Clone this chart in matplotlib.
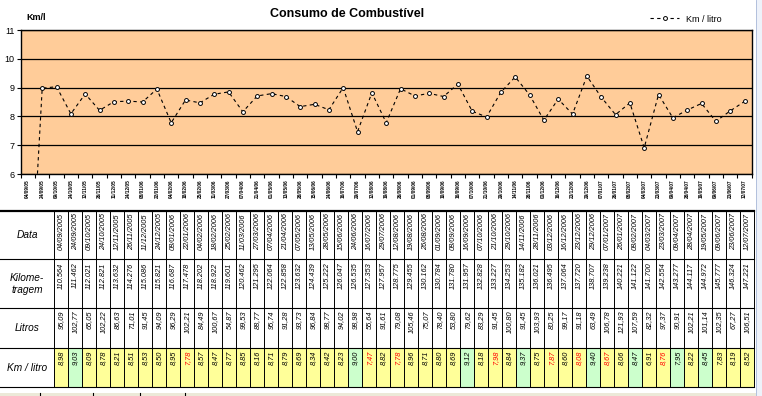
import matplotlib
matplotlib.use('Agg')
import matplotlib.pyplot as plt
import numpy as np
from matplotlib.patches import Rectangle

plt.rcParams['font.family'] = ['Liberation Sans', 'DejaVu Sans']

# ---------------- data ----------------
chart_dates = ["04/09/05", "24/09/05", "09/10/05", "24/10/05", "12/11/05", "26/11/05", "11/12/05",
               "24/12/05", "08/01/06", "22/01/06", "04/02/06", "18/02/06", "25/02/06", "11/03/06",
               "27/03/06", "07/04/06", "21/04/06", "01/05/06", "13/05/06", "28/05/06", "15/06/06",
               "24/06/06", "16/07/06", "29/07/06", "12/08/06", "19/08/06", "26/08/06", "01/09/06",
               "08/09/06", "10/09/06", "16/09/06", "07/10/06", "21/10/06", "29/10/06", "14/11/06",
               "28/11/06", "03/12/06", "16/12/06", "23/12/06", "29/12/06", "07/01/07", "26/01/07",
               "08/02/07", "04/03/07", "23/03/07", "09/04/07", "28/04/07", "19/05/07", "09/06/07",
               "23/06/07", "12/07/07"]

table_dates = ["04/09/2005", "24/09/2005", "09/10/2005", "24/10/2005", "12/11/2005", "26/11/2005",
               "11/12/2005", "24/12/2005", "08/01/2006", "22/01/2006", "04/02/2006", "18/02/2006",
               "25/02/2006", "11/03/2006", "27/03/2006", "07/04/2006", "21/04/2006", "07/05/2006",
               "13/05/2006", "28/05/2006", "15/06/2006", "24/06/2006", "16/07/2006", "29/07/2006",
               "12/08/2006", "19/08/2006", "26/08/2006", "01/09/2006", "08/09/2006", "16/09/2006",
               "07/10/2006", "21/10/2006", "29/10/2006", "14/11/2006", "28/11/2006", "03/12/2006",
               "16/12/2006", "23/12/2006", "29/12/2006", "07/01/2007", "26/01/2007", "08/02/2007",
               "04/03/2007", "23/03/2007", "09/04/2007", "28/04/2007", "19/05/2007", "09/06/2007",
               "23/06/2007", "12/07/2007"]

kilometragem = ["110.564", "111.462", "112.021", "112.821", "113.632", "114.276", "115.086", "115.821",
                "116.687", "117.478", "118.202", "118.922", "119.601", "120.462", "121.295", "122.064",
                "122.858", "123.632", "124.439", "125.222", "126.047", "126.535", "127.353", "127.957",
                "128.775", "129.455", "130.162", "130.784", "131.780", "131.957", "132.828", "133.227",
                "134.253", "135.182", "136.021", "136.495", "137.064", "137.720", "138.707", "139.238",
                "140.221", "141.122", "141.700", "142.554", "143.277", "144.117", "144.972", "145.777",
                "146.324", "147.221"]

litros = ["95,09", "102,77", "65,05", "102,22", "86,63", "71,01", "91,45", "94,09", "96,29", "102,21",
          "84,49", "100,67", "54,87", "99,53", "88,77", "95,74", "91,28", "93,73", "96,84", "98,77",
          "94,02", "98,98", "55,64", "91,61", "79,08", "105,46", "75,07", "78,40", "53,80", "79,62",
          "83,29", "91,45", "100,80", "91,45", "103,93", "80,25", "99,17", "91,18", "63,49", "106,78",
          "121,93", "107,59", "82,32", "97,37", "90,91", "102,21", "101,14", "102,35", "67,27", "106,51"]

km_litro = [8.98, 9.03, 8.09, 8.78, 8.21, 8.51, 8.53, 8.50, 8.95, 7.78,
            8.57, 8.47, 8.77, 8.85, 8.16, 8.71, 8.79, 8.69, 8.34, 8.42,
            8.23, 9.00, 7.47, 8.82, 7.78, 8.96, 8.71, 8.80, 8.69, 9.12,
            8.18, 7.98, 8.84, 9.37, 8.75, 7.87, 8.60, 8.08, 9.40, 8.67,
            8.06, 8.47, 6.91, 8.76, 7.95, 8.22, 8.45, 7.83, 8.19, 8.52]

# chart series: first fill-up has no consumption (0)
chart_kml = [0.0] + km_litro

green_cells = [2, 22, 30, 34, 39, 42, 45, 47]      # 1-based columns with green fill
red_cells = [10, 23, 25, 32, 36, 38, 40, 44]       # 1-based columns with red text

row_labels = ["Data", "Kilome-\ntragem", "Litros", "Km / litro"]

# ---------------- figure ----------------
W, H = 762, 396
fig = plt.figure(figsize=(W / 100, H / 100), dpi=100, facecolor='white')

bg = fig.add_axes([0, 0, 1, 1], zorder=0)
bg.set_xlim(0, W)
bg.set_ylim(H, 0)
bg.axis('off')

# ---------------- chart ----------------
ax = fig.add_axes([20.7 / W, 1 - 174 / H, 731 / W, 144 / H], zorder=2)
ax.set_facecolor('#FFCC99')
xs = np.arange(len(chart_dates))
ax.plot(xs, chart_kml, color='black', lw=0.8, dashes=(3, 3), marker='o', ms=2.8,
        mfc='white', mec='black', mew=0.7, label='Km / litro', zorder=3)
ax.set_xlim(-0.5, len(chart_dates) - 0.5)
ax.set_ylim(6, 11)
ax.set_yticks(range(6, 12))
ax.grid(axis='y', color='black', lw=0.9)
ax.set_axisbelow(True)
ax.set_xticks(xs)
ax.set_xticklabels(chart_dates, rotation=90, fontsize=3.4, fontweight='bold')
ax.set_xticks(np.arange(-0.5, len(chart_dates), 1), minor=True)
ax.tick_params(axis='x', which='major', length=0, pad=4)
ax.tick_params(axis='x', which='minor', length=3, direction='out', width=0.8)
ax.tick_params(axis='y', length=3, direction='out', width=0.8, pad=1.5, labelsize=6.5)
for s in ax.spines.values():
    s.set_color('black')
    s.set_linewidth(1.0)

ax.legend(loc='center', bbox_to_anchor=(686 / W, 1 - 19 / H), bbox_transform=fig.transFigure,
          frameon=False, fontsize=6.5, handlelength=3.2, handletextpad=0.8)

fig.text(347 / W, 1 - 14 / H, 'Consumo de Combustível', ha='center', va='center',
         fontsize=9, fontweight='bold')
fig.text(36 / W, 1 - 17 / H, 'Km/l', ha='center', va='center', fontsize=6.5, fontweight='bold')

# ---------------- table ----------------
col0 = 54.3
cw = 14.0
ncol = len(km_litro)
right = col0 + cw * ncol
row_y = [211, 259, 308, 348, 387]

for k in range(ncol):
    x0 = col0 + cw * k
    fc = '#CCFFCC' if (k + 1) in green_cells else '#FFFF99'
    bg.add_patch(Rectangle((x0, row_y[3]), cw, row_y[4] - row_y[3], facecolor=fc, edgecolor='none'))

bg.plot([0, right], [210.5, 210.5], color='black', lw=1.6)
for y in row_y[1:]:
    bg.plot([0, right], [y, y], color='black', lw=0.8)
for k in range(ncol + 1):
    x0 = col0 + cw * k
    bg.plot([x0, x0], [211, row_y[4]], color='black', lw=0.7)

label_y = [235, 284, 328, 368]
for lab, y in zip(row_labels, label_y):
    bg.text(27, y, lab, ha='center', va='center', fontsize=7.3, style='italic', linespacing=1.3)

fs = 5.3
for k in range(ncol):
    xc = col0 + cw * k + cw / 2
    bg.text(xc, 213.5, table_dates[k], rotation=90, ha='center', va='top', fontsize=fs, style='italic')
    bg.text(xc, 262.5, kilometragem[k], rotation=90, ha='center', va='top', fontsize=fs, style='italic')
    bg.text(xc, 310.5, litros[k], rotation=90, ha='center', va='top', fontsize=fs, style='italic')
    col = 'red' if (k + 1) in red_cells else 'black'
    bg.text(xc, 351, f"{km_litro[k]:.2f}".replace('.', ','), rotation=90, ha='center', va='top',
            fontsize=fs, style='italic', color=col)

# sheet tabs strip and scrollbar
bg.add_patch(Rectangle((0, 392.5), 756, 4, facecolor='#ECE9D8', edgecolor='none'))
for xt in [40, 93, 140, 185]:
    bg.plot([xt, xt], [392.5, 396], color='black', lw=0.8)
bg.add_patch(Rectangle((756, 0), 6, 396, facecolor='#EEF2FA', edgecolor='none'))
bg.plot([756, 756], [0, 396], color='#A8B8D8', lw=0.6)

fig.savefig('out.png', dpi=100, facecolor='white')
